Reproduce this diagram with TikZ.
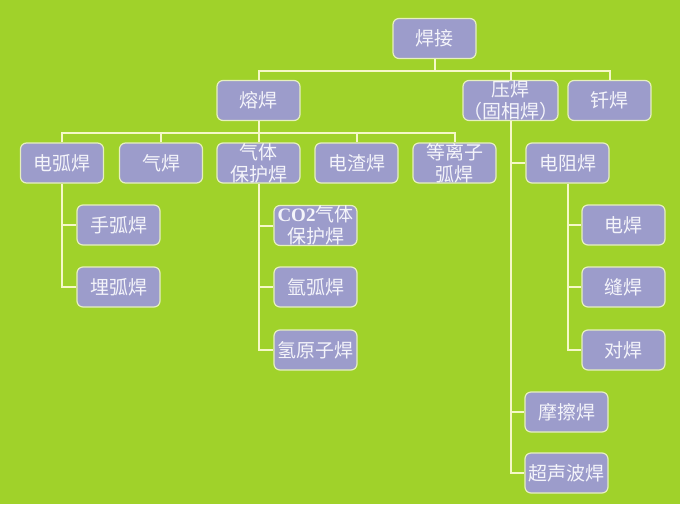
\documentclass[tikz,border=0pt]{standalone}
\usepackage{fontspec}
\setmainfont{Noto Sans CJK SC}
\newfontfamily\latinb{Liberation Serif}
\definecolor{bgcol}{RGB}{160,210,42}
\definecolor{boxfill}{RGB}{156,156,203}
\definecolor{boxline}{RGB}{230,240,190}
\definecolor{linecol}{RGB}{245,248,200}
\definecolor{boxtext}{RGB}{244,244,250}

\begin{document}
\begin{tikzpicture}[x=1pt,y=-1pt,
  box/.style={draw=boxline,line width=1.2pt,fill=boxfill,rounded corners=6pt,
    minimum width=83pt,minimum height=40pt,inner sep=0pt,text=boxtext,
    font=\fontsize{19}{22}\selectfont,align=center},
  conn/.style={draw=linecol,line width=2pt}]

%背景
\fill[bgcol] (0,0) rectangle (680,504);
\useasboundingbox (0,0) rectangle (680,504);

%第一层
\node[box] (hanjie) at (434.5,38.5) {焊接};
%第二层
\node[box] (ronghan) at (258.5,100.5) {熔焊};
\node[box] (yahan) at (510.5,100.5) {压焊\\（固相焊）};
\node[box] (qianhan) at (609.5,100.5) {钎焊};
%熔焊下面的五种
\node[box] (dianhu) at (62,163) {电弧焊};
\node[box] (qihan) at (161,163) {气焊};
\node[box] (qiti) at (258.5,163) {气体\\保护焊};
\node[box] (dianzha) at (356.5,163) {电渣焊};
\node[box] (dengli) at (454.5,163) {等离子\\弧焊};
%电弧焊
\node[box] (shouhu) at (118.5,225) {手弧焊};
\node[box] (maihu) at (118.5,287) {埋弧焊};
%气体保护焊
\node[box] (co2) at (315.5,225.5) {{\latinb\bfseries CO2}气体\\保护焊};
\node[box] (yahu) at (315.5,287) {氩弧焊};
\node[box] (qingyz) at (315.5,350) {氢原子焊};
%压焊
\node[box] (dianzu) at (567.5,163) {电阻焊};
\node[box] (dianhan) at (623.5,225) {电焊};
\node[box] (fenghan) at (623.5,287) {缝焊};
\node[box] (duihan) at (623.5,350) {对焊};
\node[box] (moca) at (566.5,412) {摩擦焊};
\node[box] (chaosheng) at (566.5,473) {超声波焊};

%连线
\coordinate (bus1) at (434.5,71);
\coordinate (bus2) at (258.5,133);
\draw[conn] (hanjie) -- (bus1);
\draw[conn] (ronghan.north) |- (bus1) -| (qianhan.north);
\draw[conn] (yahan.north) -- (yahan.north |- bus1);
\draw[conn] (ronghan) -- (bus2);
\draw[conn] (dianhu.north) |- (bus2) -| (dengli.north);
\foreach \n in {qihan,qiti,dianzha}
  \draw[conn] (\n.north) -- (\n.north |- bus2);
\foreach \n in {shouhu,maihu}
  \draw[conn] (dianhu.south) |- (\n.west);
\foreach \n in {co2,yahu,qingyz}
  \draw[conn] (qiti.south) |- (\n.west);
\foreach \n in {dianhan,fenghan,duihan}
  \draw[conn] (dianzu.south) |- (\n.west);
\foreach \n in {dianzu,moca,chaosheng}
  \draw[conn] (yahan.south) |- (\n.west);

\end{tikzpicture}
\end{document}
